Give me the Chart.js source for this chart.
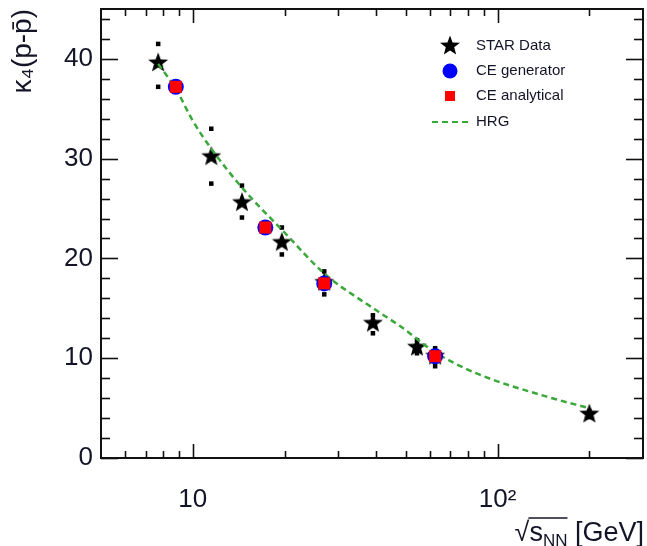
<!DOCTYPE html>
<html><head><meta charset="utf-8">
<script src="https://cdn.jsdelivr.net/npm/chart.js@4/dist/chart.umd.min.js"></script>
<style>html,body{margin:0;padding:0;background:#fff}#wrap{width:647px;height:546px}</style>
</head><body><div id="wrap"><canvas id="c" width="647" height="546"></canvas></div>
<script>
// ---- data ----
const starEnergies = [7.7, 11.5, 14.5, 19.6, 27, 39, 54.4, 62.4, 200];
const starValues   = [39.6, 30.2, 25.6, 21.6, 17.6, 13.5, 11.1, 10.2, 4.4];
const starErrHigh  = [41.5, 33.0, 27.3, 23.1, 18.7, 14.3, 11.8, 11.0, 4.7];
const starErrLow   = [37.2, 27.5, 24.1, 20.4, 16.4, 12.5, 10.5, 9.2, 4.1];
const ceEnergies   = [8.8, 17.3, 27, 62.4];
const ceGenValues  = [37.2, 23.1, 17.5, 10.2];
const ceAnaValues  = [37.2, 23.1, 17.5, 10.2];
const hrgEnergies  = [7.7, 8.8, 10, 11.5, 14.7, 20, 27, 40, 48, 62.4, 85, 145, 200];
const hrgValues    = [39.5, 37.0, 33.8, 31.0, 26.9, 22.6, 18.5, 14.8, 13.2, 10.6, 8.5, 6.15, 5.0];
const xTickValues  = [5,6,7,8,9,10,20,30,40,50,60,70,80,90,100,200,300];
const xMajorTicks  = [10, 100];
const xTickLabels  = {10: '10', 100: '10\u00B2'};
const yTickLabels  = [0, 10, 20, 30, 40];
const legendLabels = ['STAR Data', 'CE generator', 'CE analytical', 'HRG'];

const FONT = "'Liberation Sans', Arial, sans-serif";
const TXT = '#141428';

// filled five-point star marker
function makeStar(size, color) {
  const c = document.createElement('canvas');
  c.width = size; c.height = size;
  const g = c.getContext('2d');
  const cx = size / 2, cy = size / 2, R = size / 2 - 0.5, r = R * 0.42;
  g.beginPath();
  for (let i = 0; i < 10; i++) {
    const ang = -Math.PI / 2 + i * Math.PI / 5;
    const rad = i % 2 === 0 ? R : r;
    const px = cx + rad * Math.cos(ang), py = cy + rad * Math.sin(ang);
    i === 0 ? g.moveTo(px, py) : g.lineTo(px, py);
  }
  g.closePath();
  g.fillStyle = color; g.fill();
  return c;
}
const starImg = makeStar(22, '#000');

const pts = (xs, ys) => xs.map((v, i) => ({x: v, y: ys[i]}));
const noPad = (s) => { s.paddingLeft = 0; s.paddingRight = 0; s.paddingTop = 0; s.paddingBottom = 0; };

const axisDecor = {
  id: 'axisDecor',
  afterDatasetsDraw(chart) {
    const {ctx, chartArea: a, scales: {x, y}} = chart;
    ctx.save();
    ctx.strokeStyle = '#111';
    ctx.lineWidth = 1.6;
    const ln = (x1, y1, x2, y2) => { ctx.beginPath(); ctx.moveTo(x1, y1); ctx.lineTo(x2, y2); ctx.stroke(); };
    for (let v = 0; v < 45; v += 2) {
      const py = Math.round(y.getPixelForValue(v)) + 0.5;
      const len = v % 10 === 0 ? 17 : 9;
      ln(a.left, py, a.left + len, py);
      ln(a.right, py, a.right - len, py);
    }
    xTickValues.forEach(v => {
      const px = Math.round(x.getPixelForValue(v)) + 0.5;
      if (px <= a.left + 1 || px >= a.right - 1) return;
      const len = xMajorTicks.includes(v) ? 14 : 7;
      ln(px, a.bottom, px, a.bottom - len);
      ln(px, a.top, px, a.top + len);
    });
    ctx.lineWidth = 2;
    ctx.strokeRect(a.left, a.top, a.right - a.left, a.bottom - a.top);
    ctx.restore();
  }
};

const legendDecor = {
  id: 'legendDecor',
  afterDraw(chart) {
    const ctx = chart.ctx;
    ctx.save();
    const sx = 450, tx = 476, ys = [46, 71, 96, 122];
    ctx.drawImage(starImg, sx - 11, ys[0] - 11);
    ctx.fillStyle = '#0000ff';
    ctx.beginPath(); ctx.arc(sx, ys[1], 7.5, 0, Math.PI * 2); ctx.fill();
    ctx.fillStyle = '#ff0000';
    ctx.fillRect(sx - 5, ys[2] - 5, 10, 10);
    ctx.strokeStyle = '#33aa33'; ctx.lineWidth = 2; ctx.setLineDash([6, 4]);
    ctx.beginPath(); ctx.moveTo(432, ys[3]); ctx.lineTo(469, ys[3]); ctx.stroke();
    ctx.setLineDash([]);
    ctx.fillStyle = TXT;
    ctx.font = '15px ' + FONT;
    ctx.textBaseline = 'middle';
    ctx.textAlign = 'left';
    legendLabels.forEach((t, i) => ctx.fillText(t, tx, ys[i]));
    ctx.restore();
  }
};

const xTitleDecor = {
  id: 'xTitleDecor',
  afterDraw(chart) {
    const ctx = chart.ctx;
    ctx.save();
    ctx.fillStyle = TXT; ctx.strokeStyle = TXT;
    const big = '27px ' + FONT, small = '17px ' + FONT;
    const base = 541;
    ctx.textBaseline = 'alphabetic';
    ctx.font = big;
    const wRad = ctx.measureText('\u221A').width;
    const wS = ctx.measureText('s').width;
    const wG = ctx.measureText(' [GeV]').width;
    ctx.font = small;
    const wN = ctx.measureText('NN').width;
    const total = wRad + wS + wN + wG;
    let cx = 644 - total;
    ctx.font = big;
    ctx.fillText('\u221A', cx, base); cx += wRad;
    const ovStart = cx - 1;
    ctx.fillText('s', cx, base); cx += wS;
    ctx.font = small;
    ctx.fillText('NN', cx, base + 5); cx += wN;
    const ovEnd = cx;
    ctx.font = big;
    ctx.fillText(' [GeV]', cx, base);
    ctx.lineWidth = 1.3;
    ctx.beginPath(); ctx.moveTo(ovStart, base - 23); ctx.lineTo(ovEnd, base - 23); ctx.stroke();
    ctx.restore();
  }
};

new Chart(document.getElementById('c'), {
  type: 'scatter',
  data: {
    datasets: [
      { label: 'STAR Data', data: pts(starEnergies, starValues), pointStyle: starImg, pointRadius: 11, order: 5 },
      { label: 'errHigh', data: pts(starEnergies, starErrHigh), pointStyle: 'rect', pointRadius: 3.2, backgroundColor: '#000', borderWidth: 0, order: 6 },
      { label: 'errLow', data: pts(starEnergies, starErrLow), pointStyle: 'rect', pointRadius: 3.2, backgroundColor: '#000', borderWidth: 0, order: 6 },
      { label: 'HRG', type: 'line', data: pts(hrgEnergies, hrgValues), showLine: true, pointRadius: 0,
        borderColor: '#3aa83a', borderWidth: 2.5, borderDash: [6, 4], cubicInterpolationMode: 'monotone', fill: false, order: 3 },
      { label: 'CE generator', data: pts(ceEnergies, ceGenValues), pointStyle: 'circle', pointRadius: 8, backgroundColor: '#0000ff', borderWidth: 0, order: 2 },
      { label: 'CE analytical', data: pts(ceEnergies, ceAnaValues), pointStyle: 'rect', pointRadius: 8.5, backgroundColor: '#ff0000', borderWidth: 0, order: 1 }
    ]
  },
  options: {
    responsive: false, animation: false, devicePixelRatio: 1,
    layout: { autoPadding: false, padding: { left: 0, right: 4, top: 9, bottom: 0 } },
    plugins: { legend: { display: false }, tooltip: { enabled: false } },
    scales: {
      x: {
        type: 'logarithmic', min: 5, max: 300,
        afterFit(s) { s.height = 88; noPad(s); },
        grid: { display: false }, border: { display: false },
        ticks: { autoSkip: false, maxRotation: 0, padding: 18, color: TXT, font: { family: FONT, size: 26 },
          callback: (v) => xTickLabels[Math.round(v)] !== undefined && Math.abs(v - Math.round(v)) < 1e-6 ? xTickLabels[Math.round(v)] : '' }
      },
      y: {
        type: 'linear', min: 0, max: 45,
        afterFit(s) { s.width = 101; noPad(s); },
        grid: { display: false }, border: { display: false },
        ticks: { stepSize: 10, padding: 0, color: TXT, font: { family: FONT, size: 26 },
          callback: (v) => yTickLabels.includes(v) ? String(v) : '' },
        title: { display: true, text: '\u03BA\u2084(p-p\u0304)', align: 'end', color: TXT,
          font: { family: FONT, size: 28 }, padding: { top: 6, bottom: 0 } }
      }
    }
  },
  plugins: [axisDecor, legendDecor, xTitleDecor]
});
</script>
</body></html>
